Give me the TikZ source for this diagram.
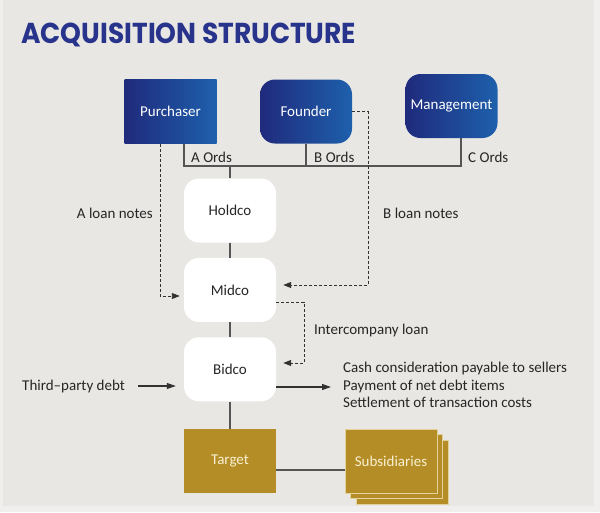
\documentclass[tikz,border=0pt]{standalone}
\usepackage{fontspec}
\usepackage{graphicx}
\usepackage{tikz}
\usepackage{xcolor}
\usetikzlibrary{positioning, arrows.meta}
\setmainfont{Carlito}
\newfontfamily\titlefont{Poppins}
\definecolor{acqbg}{RGB}{232, 231, 228}
\definecolor{acqedge}{RGB}{240, 239, 237}
\definecolor{acqtitle}{RGB}{40, 52, 140}
\definecolor{acqnavy}{RGB}{31, 42, 124}
\definecolor{acqblue}{RGB}{30, 96, 172}
\definecolor{acqgold}{RGB}{180, 141, 38}
\definecolor{acqgoldtext}{RGB}{248, 240, 210}
\definecolor{acqline}{RGB}{85, 85, 85}
\definecolor{acqdash}{RGB}{50, 50, 50}
\tikzset{
    entnode/.style={minimum width=92pt, minimum height=64pt, inner sep=0pt, font=\fontsize{15}{17}\selectfont},
    bluenode/.style={entnode, left color=acqnavy, right color=acqblue, text=white},
    whitenode/.style={entnode, fill=white, text=black!85, rounded corners=15pt},
    goldnode/.style={entnode, fill=acqgold, text=acqgoldtext},
    lbl/.style={inner sep=0pt, text=black!85, font=\fontsize{15}{17}\selectfont},
    link/.style={draw=acqline, line width=1.3pt},
    loan/.style={draw=acqdash, line width=0.9pt, dash pattern=on 3pt off 2pt, -{Triangle[length=8pt, width=6pt]}},
    flow/.style={draw=acqdash, line width=1.1pt, -{Triangle[length=9pt, width=6pt]}}
}

\begin{document}
\begin{tikzpicture}[x=1pt, y=-1pt]
    \useasboundingbox (0,0) rectangle (600,512);
    \fill[acqedge] (0,0) rectangle (600,512);
    \fill[acqbg] (3,0) rectangle (594,506);

    \node[anchor=base west, inner sep=0pt, text=acqtitle] (title) at (21,43)
        {\resizebox{335pt}{20.5pt}{\titlefont\bfseries ACQUISITION STRUCTURE}};

    % shareholders
    \node[bluenode] (purchaser) at (170.5,111.5) {Purchaser};
    \node[bluenode, rounded corners=15pt] (founder) at (306,111.5) {Founder};
    \node[bluenode, rounded corners=15pt] (management) at (451.5,106) {Management};

    % group companies
    \node[whitenode] (holdco) at (230,210.5) {Holdco};
    \node[whitenode, below=15pt of holdco] (midco) {Midco};
    \node[whitenode, below=15pt of midco] (bidco) {Bidco};
    \node[goldnode, below=27pt of bidco] (target) {Target};

    \foreach \d in {11,5.5}
        \filldraw[fill=acqgold, draw=acqgoldtext!70!acqgold, line width=0.6pt] (345+\d,429+\d) rectangle +(92,64);
    \node[goldnode, draw=acqgoldtext!70!acqgold, line width=0.6pt] (subs) at (391,461) {Subsidiaries};

    % ordinary shares
    \coordinate (ords) at (184,166);
    \coordinate (cbus) at (461,166);
    \draw[link] (ords |- purchaser.south) -- (ords) -- (cbus) -- (cbus |- management.south);
    \draw[link] (founder.south) -- (founder.south |- ords);
    \draw[link] (holdco.north) -- (holdco.north |- ords);
    \node[lbl, anchor=base west] (aords) at (191,162) {A Ords};
    \node[lbl, anchor=base west] (bords) at (314,162) {B Ords};
    \node[lbl, anchor=base west] (cords) at (468,162) {C Ords};

    \draw[link] (holdco) -- (midco);
    \draw[link] (midco) -- (bidco);
    \draw[link] (bidco) -- (target);
    \draw[link] (target.east |- 0,470) -- (subs.west |- 0,470);

    % loan notes
    \coordinate (aturn) at (160,296);
    \coordinate (bturn) at (368,285);
    \draw[loan, shorten >=4pt] (purchaser.south -| aturn) |- (aturn -| midco.west);
    \draw[loan, shorten >=7pt] (founder.east) -| (bturn) -- (bturn -| midco.east);
    \node[lbl, anchor=east] (aloan) at (153,213) {A loan notes};
    \node[lbl, anchor=west] (bloan) at (383,213) {B loan notes};

    \coordinate (icfrom) at (304,302);
    \coordinate (icto) at (304,363);
    \draw[loan, shorten >=7pt] (icfrom -| midco.east) -- (icfrom) -- (icto) -- (icto -| bidco.east);
    \node[lbl, anchor=west] (icloan) at (314,330) {Intercompany loan};

    % funds flow
    \node[lbl, anchor=west] (debt) at (22,386) {Third–party debt};
    \draw[flow, shorten <=13pt, shorten >=8pt] (debt.east) -- (debt.east -| bidco.west);
    \node[lbl, anchor=west, align=left, font=\fontsize{15}{17.5}\selectfont] (uses) at (343,385)
        {Cash consideration payable to sellers\\Payment of net debt items\\Settlement of transaction costs};
    \draw[flow, shorten >=12pt] (bidco.east |- 0,387) -- (uses.west |- 0,387);
\end{tikzpicture}
\end{document}
